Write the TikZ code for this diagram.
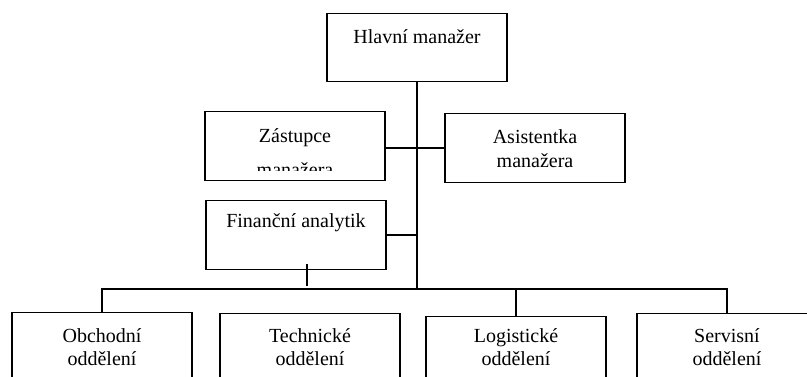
\documentclass[tikz,border=0pt]{standalone}
\usepackage{fontspec}
\setmainfont{Liberation Serif}

\tikzset{
  unit/.style={draw, line width=1.3pt, minimum width=180pt, inner xsep=2pt,
    inner ysep=0pt, align=center, anchor=north,
    font=\fontsize{20}{23}\selectfont},
  link/.style={line width=1.3pt}
}

\begin{document}
\begin{tikzpicture}[x=1pt,y=-1pt]
\useasboundingbox (0,0) rectangle (807,377);
\clip (0,0) rectangle (807,377);
% top level
\node[unit, text height=30pt, text depth=38pt] (hlavni) at (417,13) {Hlavní manažer};
% staff
\node[unit, text height=65pt, text depth=4pt] (zast) at (295,111) {Zástupce\\[11pt]manažera};
\fill[white] (207,171) rectangle (383,178.5);
\node[unit, text height=54pt, text depth=15pt] (asist) at (535,113) {Asistentka\\[1pt]manažera};
\node[unit, text height=27pt, text depth=42pt] (fin) at (296,200) {Finanční analytik};
% departments
\node[unit, text height=53pt, text depth=25pt] (obch) at (102,312) {Obchodní\\oddělení};
\node[unit, text height=52pt, text depth=25pt] (tech) at (310,313) {Technické\\oddělení};
\node[unit, text height=49pt, text depth=25pt] (logi) at (516,316) {Logistické\\oddělení};
\node[unit, text height=52pt, text depth=25pt] (serv) at (727,313) {Servisní\\oddělení};
% connectors
\coordinate (bus) at (417,289);
\draw[link] (hlavni.south) -- (bus);
\draw[link] (asist.west -| zast.east) -- (asist.west);
\draw[link] (fin.east) -- (fin.east -| hlavni.south);
\draw[link] ([xshift=11pt,yshift=6pt]fin.south) -- ++(0,22);
\draw[link] (obch.north) |- (bus) -| (serv.north);
\draw[link] (logi.north) -- (logi.north |- bus);
\end{tikzpicture}
\end{document}
